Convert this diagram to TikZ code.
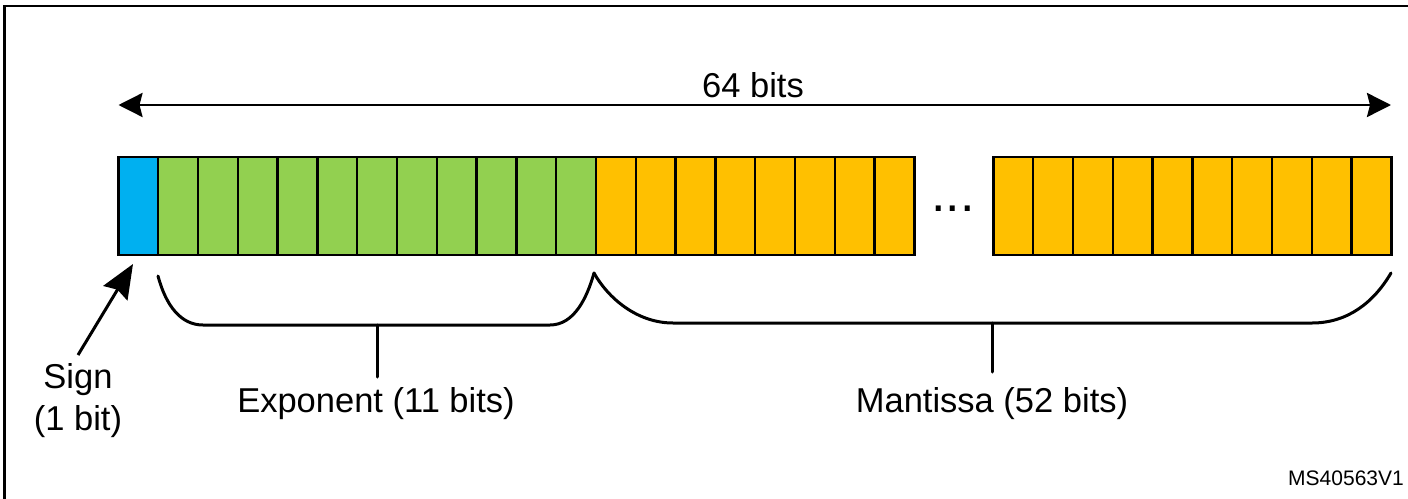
\documentclass[tikz,border=0pt]{standalone}
\usepackage{fontspec}
\setmainfont{Liberation Sans}
\usetikzlibrary{arrows.meta,calc}
\definecolor{signblue}{HTML}{00B0F0}
\definecolor{expgreen}{HTML}{92D050}
\definecolor{mantorange}{HTML}{FFC000}
\begin{document}
\begin{tikzpicture}[x=1pt,y=-1pt,
  bitcell/.style={draw=black, line width=2.4pt, minimum width=39.8pt,
    minimum height=98.3pt, inner sep=0pt, outer sep=0pt, anchor=north west},
  signcell/.style={bitcell, fill=signblue},
  expcell/.style={bitcell, fill=expgreen},
  mantcell/.style={bitcell, fill=mantorange},
  label/.style={font=\fontsize{34.5}{40}\selectfont, inner sep=0pt, anchor=base},
  brace/.style={draw=black, line width=3pt, line join=round, line cap=round},
  widtharrow/.style={draw=black, line width=2.8pt,
    {Stealth[length=24pt,width=24pt,inset=3pt]}-{Stealth[length=24pt,width=24pt,inset=3pt]}},
  pointer/.style={draw=black, line width=3pt,
    -{Stealth[length=34pt,width=28pt,inset=4pt]}}]

% page area and outer frame (only its top and left sides fall on the page)
\useasboundingbox (0,0) rectangle (1408,498);
\clip (0,0) rectangle (1408,498);
\draw[line width=2.6pt] (4.5,520) -- (4.5,6) -- (1430,6);

% bit cells
\node[signcell] (c0) at (118.3,156.7) {};
\foreach \i in {1,...,11}
  \node[expcell] (c\i) at ({118.3+\i*39.8},156.7) {};
\foreach \i in {12,...,19}
  \node[mantcell] (c\i) at ({118.3+\i*39.8},156.7) {};
\foreach \j in {0,...,9}
  \node[mantcell] (d\j) at ({993.3+\j*39.8},156.7) {};
\node[font=\fontsize{52}{56}\selectfont, inner sep=0pt, anchor=base] (dots) at (953,211) {...};

% overall width
\coordinate (wl) at (118.5,105);
\coordinate (wr) at (1391,105);
\draw[widtharrow] (wl) -- (wr);
\node[label] (w64) at (753,97) {64 bits};

% sign pointer
\node[label] (sgn) at (78,388) {Sign};
\node[label] (sgnb) at (78,430) {(1 bit)};
\coordinate (ptail) at (78,355);
\coordinate (phead) at (133,264);
\draw[pointer] (ptail) -- (phead);

% exponent brace
\coordinate (el) at (158,276);
\coordinate (ep) at (594,273);
\coordinate (em) at (377,325);
\coordinate (es) at (377,377);
\draw[brace] (el) .. controls (166,306) and (181,325) .. (203,325)
  -- (550,325) .. controls (574,325) and (587,298) .. (ep);
\draw[brace] (em) -- (es);
\node[label] (exp) at (376,412) {Exponent (11 bits)};

% mantissa brace
\coordinate (mr) at (1391,273);
\coordinate (mm) at (992,323);
\coordinate (ms) at (992,372);
\draw[brace] (ep) .. controls (608,298) and (637,323) .. (673,323)
  -- (1312,323) .. controls (1348,323) and (1374,302) .. (mr);
\draw[brace] (mm) -- (ms);
\node[label] (man) at (992,412) {Mantissa (52 bits)};

% figure reference
\node[font=\fontsize{21}{24}\selectfont, inner sep=0pt, anchor=base east] (ref) at (1404,485) {MS40563V1};
\end{tikzpicture}
\end{document}
